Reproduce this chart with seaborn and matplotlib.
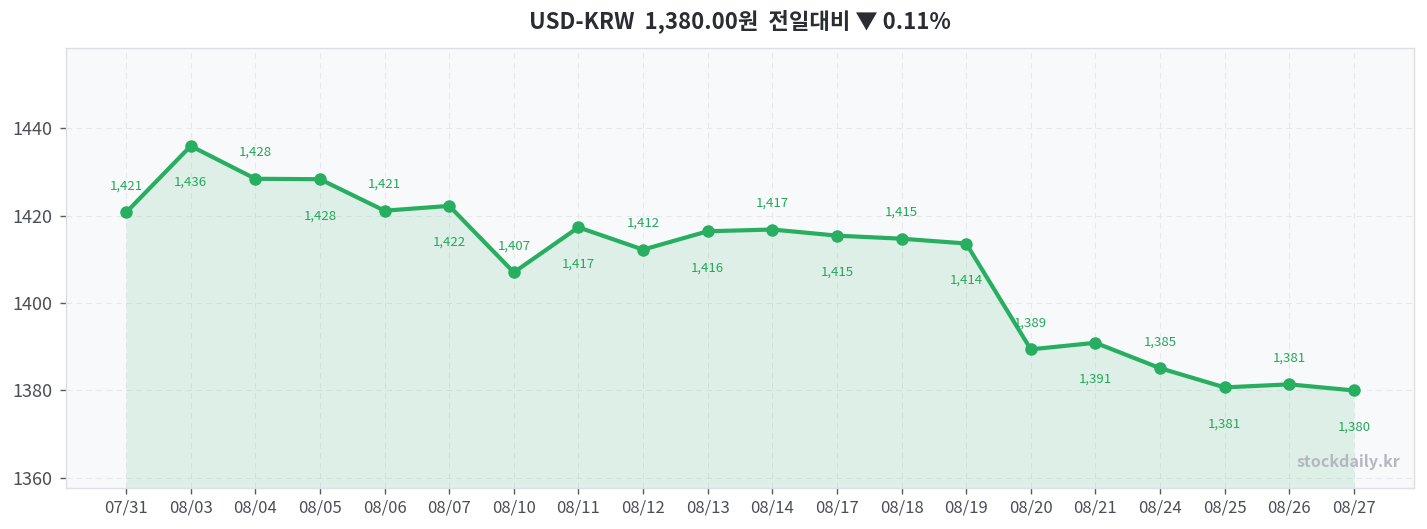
import pandas as pd
import matplotlib
matplotlib.use("Agg")
import matplotlib.pyplot as plt
import seaborn as sns

dates = ["07/31", "08/03", "08/04", "08/05", "08/06", "08/07", "08/10", "08/11",
         "08/12", "08/13", "08/14", "08/17", "08/18", "08/19", "08/20", "08/21",
         "08/24", "08/25", "08/26", "08/27"]
rates = [1420.7, 1435.9, 1428.4, 1428.3, 1421.1, 1422.2, 1407.0, 1417.3,
         1412.2, 1416.4, 1416.8, 1415.4, 1414.7, 1413.6, 1389.4, 1390.9,
         1385.1, 1380.7, 1381.4, 1380.0]
title = "USD-KRW  1,380.00원  전일대비 ▼ 0.11%"

GREEN = "#27ae60"

sns.set_theme(style="whitegrid")
plt.rcParams["font.family"] = ["Noto Sans CJK KR", "DejaVu Sans"]

df = pd.DataFrame({"date": dates, "rate": rates})
df["pos"] = range(len(df))

fig = plt.figure(figsize=(14.27, 5.29), dpi=100)
ax = fig.add_axes([66 / 1427, 1 - 488 / 529, (1414 - 66) / 1427, (488 - 48) / 529])
ax.set_facecolor("#f8f9fb")

ymin, ymax = 1357.7, 1458.3
ax.fill_between(df["pos"], df["rate"], ymin, color=GREEN, alpha=0.12, linewidth=0)
sns.lineplot(data=df, x="pos", y="rate", ax=ax, color=GREEN, linewidth=3,
             marker="o", markersize=9, markeredgewidth=0)

# labels alternate above / below the points
for i, row in df.iterrows():
    if i % 2 == 0:
        off, va = 20, "bottom"
    else:
        off, va = -30, "top"
    ax.annotate(f"{round(row['rate']):,}", (row["pos"], row["rate"]),
                xytext=(0, off), textcoords="offset pixels",
                ha="center", va=va, fontsize=9.5, color="#22a957")

ax.set_xlim(-0.93, len(dates) - 1 + 0.93)
ax.set_ylim(ymin, ymax)
ax.set_xticks(df["pos"])
ax.set_xticklabels(dates)
ax.set_yticks([1360, 1380, 1400, 1420, 1440])
ax.set_xlabel("")
ax.set_ylabel("")
ax.grid(True, color="#e6e8ec", linestyle=(0, (5, 4)), linewidth=0.8)
ax.tick_params(axis="x", colors="#4a4f57", labelsize=12, length=4, width=1, pad=4)
ax.tick_params(axis="y", colors="#4a4f57", labelsize=13, length=4, width=1, pad=6)
ax.tick_params(axis="both", color="#555a62")
ax.xaxis.set_ticks_position("bottom")
ax.yaxis.set_ticks_position("left")
for s in ax.spines.values():
    s.set_color("#dcdfe4")
    s.set_linewidth(1)

ax.text(0.99, 0.04, "stockdaily.kr", transform=ax.transAxes, ha="right",
        va="bottom", fontsize=11.5, fontweight="bold", color="#b4b8be")

ax.set_title(title, fontsize=16, fontweight="bold", color="#2a2d33", pad=14)

fig.savefig("out.png", dpi=100)
